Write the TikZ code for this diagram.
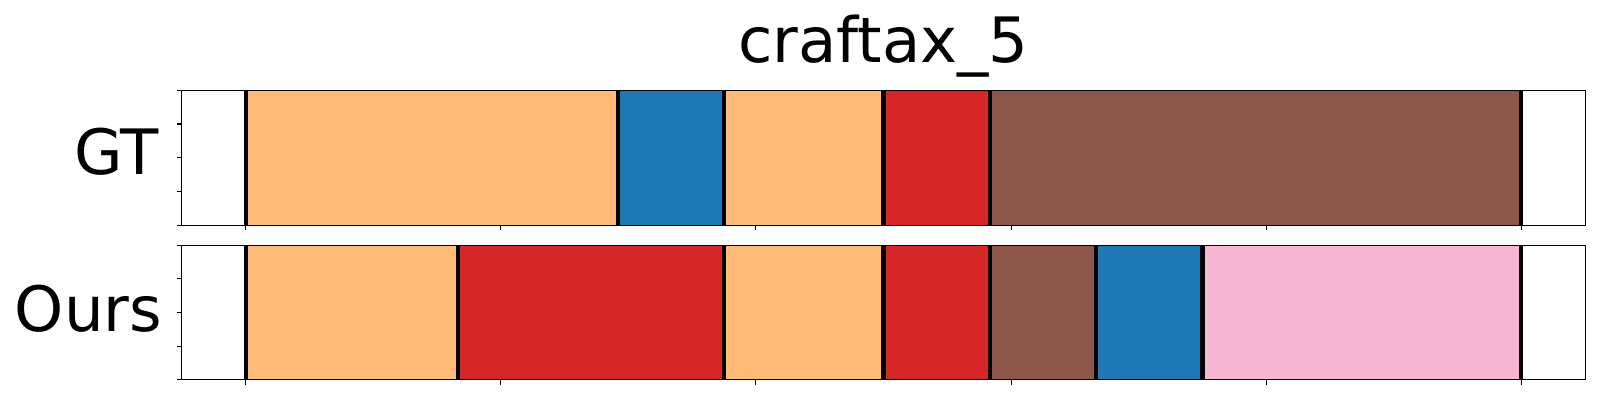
\documentclass[tikz,border=0pt]{standalone}
\usepackage{fontspec}
\setmainfont{DejaVu Sans}
\usepackage{tikz}

\definecolor{segorange}{RGB}{255,187,120}
\definecolor{segblue}{RGB}{31,119,180}
\definecolor{segred}{RGB}{214,39,40}
\definecolor{segbrown}{RGB}{140,86,75}
\definecolor{segpink}{RGB}{247,182,210}

\tikzset{
    bigtext/.style={font=\fontsize{17.8}{20}\selectfont, inner sep=0pt},
    spine/.style={line width=0.3pt},
    cut/.style={line width=1.2pt}
}

\begin{document}
\begin{tikzpicture}[x=0.1063cm, y=-0.01cm]
        \useasboundingbox (-23.114,0) rectangle (127.399,400);

        % GT row
        \foreach \a/\b/\c in {0/35/segorange, 35/45/segblue, 45/60/segorange, 60/70/segred, 70/120/segbrown}
            \fill[\c] (\a,90.3) rectangle (\b,225.3);
        \foreach \x in {0,35,45,60,70,120}
            \draw[cut] (\x,90.3) -- (\x,225.3);

        % Ours row
        \foreach \a/\b/\c in {0/20/segorange, 20/45/segred, 45/60/segorange, 60/70/segred, 70/80/segbrown, 80/90/segblue, 90/120/segpink}
            \fill[\c] (\a,245.3) rectangle (\b,380);
        \foreach \x in {0,20,45,60,70,80,90,120}
            \draw[cut] (\x,245.3) -- (\x,380);

        % frames and ticks
        \draw[spine] (-6,90.3) rectangle (126,225.3);
        \draw[spine] (-6,245.3) rectangle (126,380);
        \foreach \x in {0,24,...,120} {
            \draw[spine] (\x,225.3) -- ++(0,5.3);
            \draw[spine] (\x,380) -- ++(0,5.3);
        }
        \foreach \i in {0,...,4} {
            \draw[spine] (-6,{90.3+33.75*\i}) -- ++(-0.5,0);
            \draw[spine] (-6,{245.3+33.675*\i}) -- ++(-0.5,0);
        }

        \node[bigtext, anchor=base] (title) at (60,62.7) {craftax\_5};
        \node[bigtext, anchor=base east] (gt) at (-8.1,175) {GT};
        \node[bigtext, anchor=base east] (ours) at (-7.8,331.5) {Ours};
    \end{tikzpicture}
\end{document}
